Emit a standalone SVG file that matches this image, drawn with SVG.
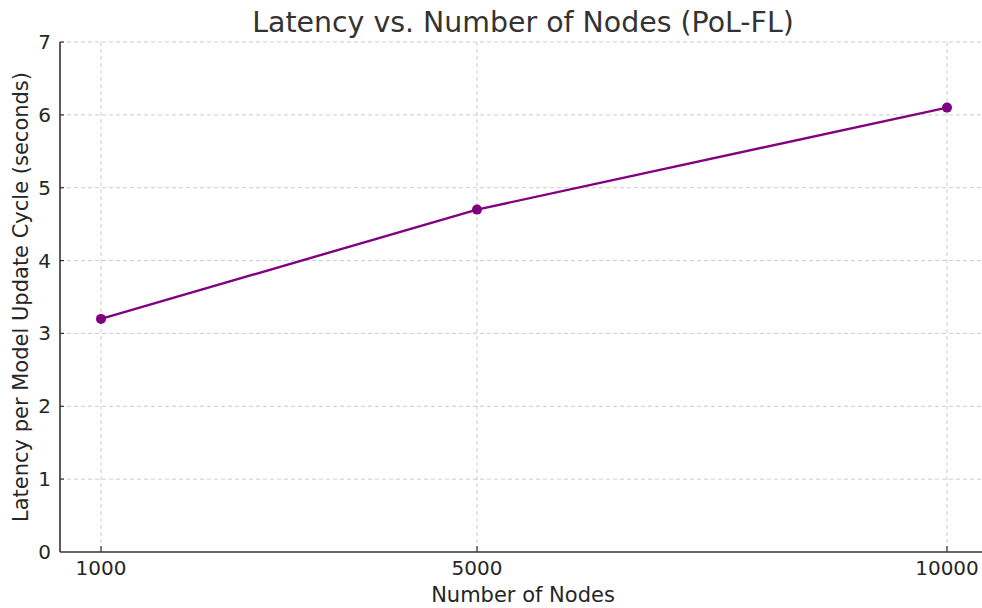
<svg xmlns="http://www.w3.org/2000/svg" width="982" height="608" viewBox="0 0 982 608">
<style>
.grid{stroke:#cccccc;stroke-width:1;stroke-dasharray:4,3;fill:none}
.spine{stroke:#333333;stroke-width:1.6;fill:none}
.tick{stroke:#333333;stroke-width:1.2}
.tl{font-family:"DejaVu Sans",sans-serif;font-size:20px;fill:#262626}
.lab{font-family:"DejaVu Sans",sans-serif;font-size:21px;fill:#262626}
.title{font-family:"DejaVu Sans",sans-serif;font-size:28.4px;fill:#333333}
.series{stroke:#800080;stroke-width:2.4;fill:none;stroke-linejoin:round}
.pt{fill:#800080}
</style>
<rect width="982" height="608" fill="#ffffff"/>
<g id="grid">
<line class="grid" x1="101" y1="42" x2="101" y2="552"/>
<line class="grid" x1="477" y1="42" x2="477" y2="552"/>
<line class="grid" x1="947" y1="42" x2="947" y2="552"/>
<line class="grid" x1="60" y1="479.1" x2="982" y2="479.1"/>
<line class="grid" x1="60" y1="406.3" x2="982" y2="406.3"/>
<line class="grid" x1="60" y1="333.4" x2="982" y2="333.4"/>
<line class="grid" x1="60" y1="260.6" x2="982" y2="260.6"/>
<line class="grid" x1="60" y1="187.7" x2="982" y2="187.7"/>
<line class="grid" x1="60" y1="114.9" x2="982" y2="114.9"/>
<line class="grid" x1="60" y1="42" x2="982" y2="42"/>
</g>
<g id="axes">
<line class="spine" x1="60" y1="42" x2="60" y2="552"/>
<line class="spine" x1="60" y1="552" x2="982" y2="552"/>
<line class="tick" x1="101" y1="552" x2="101" y2="546"/>
<line class="tick" x1="477" y1="552" x2="477" y2="546"/>
<line class="tick" x1="947" y1="552" x2="947" y2="546"/>
<line class="tick" x1="60" y1="479.1" x2="64" y2="479.1"/>
<line class="tick" x1="60" y1="406.3" x2="64" y2="406.3"/>
<line class="tick" x1="60" y1="333.4" x2="64" y2="333.4"/>
<line class="tick" x1="60" y1="260.6" x2="64" y2="260.6"/>
<line class="tick" x1="60" y1="187.7" x2="64" y2="187.7"/>
<line class="tick" x1="60" y1="114.9" x2="64" y2="114.9"/>
<line class="tick" x1="60" y1="42" x2="64" y2="42"/>
</g>
<g id="tick-labels">
<text class="tl" x="101" y="575" text-anchor="middle">1000</text>
<text class="tl" x="477" y="575" text-anchor="middle">5000</text>
<text class="tl" x="947" y="575" text-anchor="middle">10000</text>
<text class="tl" x="51" y="559" text-anchor="end">0</text>
<text class="tl" x="51" y="486.1" text-anchor="end">1</text>
<text class="tl" x="51" y="413.3" text-anchor="end">2</text>
<text class="tl" x="51" y="340.4" text-anchor="end">3</text>
<text class="tl" x="51" y="267.6" text-anchor="end">4</text>
<text class="tl" x="51" y="194.7" text-anchor="end">5</text>
<text class="tl" x="51" y="121.9" text-anchor="end">6</text>
<text class="tl" x="51" y="49" text-anchor="end">7</text>
</g>
<text class="title" x="523" y="32" text-anchor="middle">Latency vs. Number of Nodes (PoL-FL)</text>
<text class="lab" x="523" y="602" text-anchor="middle">Number of Nodes</text>
<text class="lab" transform="translate(28,297) rotate(-90)" text-anchor="middle">Latency per Model Update Cycle (seconds)</text>
<g id="connectors">
<polyline class="series" points="101,318.9 477,209.6 947,107.6"/>
</g>
<g id="node-1000"><circle class="pt" cx="101" cy="318.9" r="5"/></g>
<g id="node-5000"><circle class="pt" cx="477" cy="209.6" r="5"/></g>
<g id="node-10000"><circle class="pt" cx="947" cy="107.6" r="5"/></g>
</svg>
